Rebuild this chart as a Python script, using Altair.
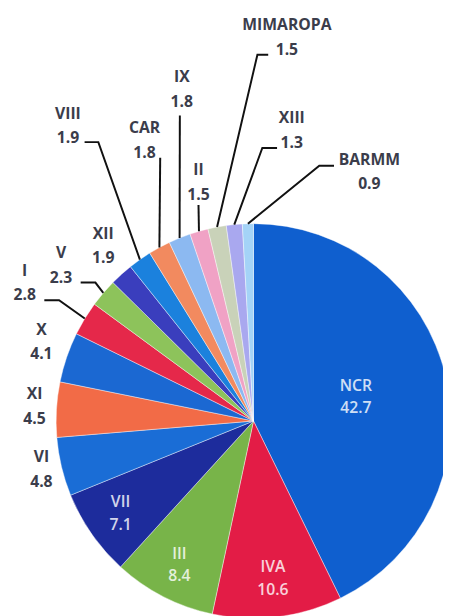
import math
import altair as alt
import pandas as pd
import numpy as np

# ---- data ----
regions = ["NCR", "IVA", "III", "VII", "VI", "XI", "X", "I", "V", "XII",
           "VIII", "CAR", "IX", "II", "MIMAROPA", "XIII", "BARMM"]
shares = [42.7, 10.6, 8.4, 7.1, 4.8, 4.5, 4.1, 2.8, 2.3, 1.9,
          1.9, 1.8, 1.8, 1.5, 1.5, 1.3, 0.9]
value_labels = ["42.7", "10.6", "8.4", "7.1", "4.8", "4.5", "4.1", "2.8", "2.3", "1.9",
                "1.9", "1.8", "1.8", "1.5", "1.5", "1.3", "0.9"]

# ---- styles ----
colors = ["#0f5fcf", "#e31c46", "#78b449", "#1d2c9c", "#1a6dd6", "#f26b47", "#1b68d2",
          "#e5284a", "#8dc35b", "#3a3ebd", "#1b81dd", "#f28a5f", "#8cb9f1", "#f0a2c5",
          "#c9d2b9", "#a9a8ef", "#a4d3f7"]
TEXT_DARK = "#3b3d4b"
FONT = "Open Sans"

# ---- layout (page pixel coordinates) ----
OFF = 8
W, H = 443, 608
CX, CY, R = 258, 423, 201
inner_r = {"NCR": 107, "IVA": 162, "III": 165, "VII": 165}
manual_pos = {"VI": (42, 472.5), "XI": (35, 408.5), "X": (42, 342.5),
              "I": (25, 282.5), "V": (62, 265), "XII": (105, 245),
              "VIII": (69, 122.5), "CAR": (147, 137.5), "IX": (185, 85.5),
              "II": (202, 180), "MIMAROPA": (292, 32.5), "XIII": (297, 127),
              "BARMM": (376, 169.5)}
leader_pts = {"I": [(45, 300), (60, 300)], "V": [(82, 282), (97, 282)],
              "VIII": [(86, 139), (100, 139)], "CAR": [(163, 155)],
              "IX": [(183, 112)], "II": [(202, 203)],
              "MIMAROPA": [(273, 50), (262, 50)], "XIII": [(282, 145), (267, 145)],
              "BARMM": [(340, 163), (325, 163)]}

total = sum(shares)
cum = np.cumsum(shares)
mid = {r: (c - s / 2) / total * 2 * math.pi for r, s, c in zip(regions, shares, cum)}


def polar(a, rad):
    return CX + rad * math.sin(a), CY - rad * math.cos(a)


pie_df = pd.DataFrame({"region": regions, "share": shares, "idx": range(len(regions))})

rows = []
for reg, lab in zip(regions, value_labels):
    if reg in inner_r:
        x, y = polar(mid[reg], inner_r[reg])
        gap, kind = 23, "in"
    else:
        x, y = manual_pos[reg]
        gap, kind = 25, "out"
    rows.append({"region": reg, "text": reg, "x": x, "y": y - gap / 2, "kind": kind})
    rows.append({"region": reg, "text": lab, "x": x, "y": y + gap / 2, "kind": kind})
lab_df = pd.DataFrame(rows)

lrows = []
for reg, pts in leader_pts.items():
    allp = pts + [polar(mid[reg], R)]
    for i, (x, y) in enumerate(allp):
        lrows.append({"region": reg, "o": i, "x": x, "y": y})
line_df = pd.DataFrame(lrows)

xs = alt.Scale(domain=[OFF, OFF + W], nice=False, zero=False)
ys = alt.Scale(domain=[OFF + H, OFF], nice=False, zero=False)

pie = alt.Chart(pie_df).mark_arc(radius=R, stroke="white", strokeWidth=0.6,
                                 strokeOpacity=0.7).encode(
    theta=alt.Theta("share:Q", stack=True),
    order=alt.Order("idx:Q"),
    color=alt.Color("region:N", scale=alt.Scale(domain=regions, range=colors), legend=None),
    x=alt.value(CX - OFF),
    y=alt.value(CY - OFF),
)

leaders = alt.Chart(line_df).mark_line(color="#111111", strokeWidth=2).encode(
    x=alt.X("x:Q", scale=xs, axis=None),
    y=alt.Y("y:Q", scale=ys, axis=None),
    detail="region:N",
    order="o:Q",
)

out_text = alt.Chart(lab_df).transform_filter(alt.datum.kind == "out").mark_text(
    font=FONT, fontSize=16, fontWeight="bold", color=TEXT_DARK,
    align="center", baseline="middle").encode(
    x=alt.X("x:Q", scale=xs, axis=None),
    y=alt.Y("y:Q", scale=ys, axis=None),
    text="text:N",
)

in_text = alt.Chart(lab_df).transform_filter(alt.datum.kind == "in").mark_text(
    font=FONT, fontSize=16, fontWeight=600, color="white", opacity=0.8,
    align="center", baseline="middle").encode(
    x=alt.X("x:Q", scale=xs, axis=None),
    y=alt.Y("y:Q", scale=ys, axis=None),
    text="text:N",
)

chart = alt.layer(pie, leaders, out_text, in_text).properties(
    width=W, height=H, padding=0,
    autosize=alt.AutoSizeParams(type="none"),
    background="white",
).configure_view(strokeWidth=0)

chart.save("out.html", embed_options={"renderer": "svg", "actions": False})
